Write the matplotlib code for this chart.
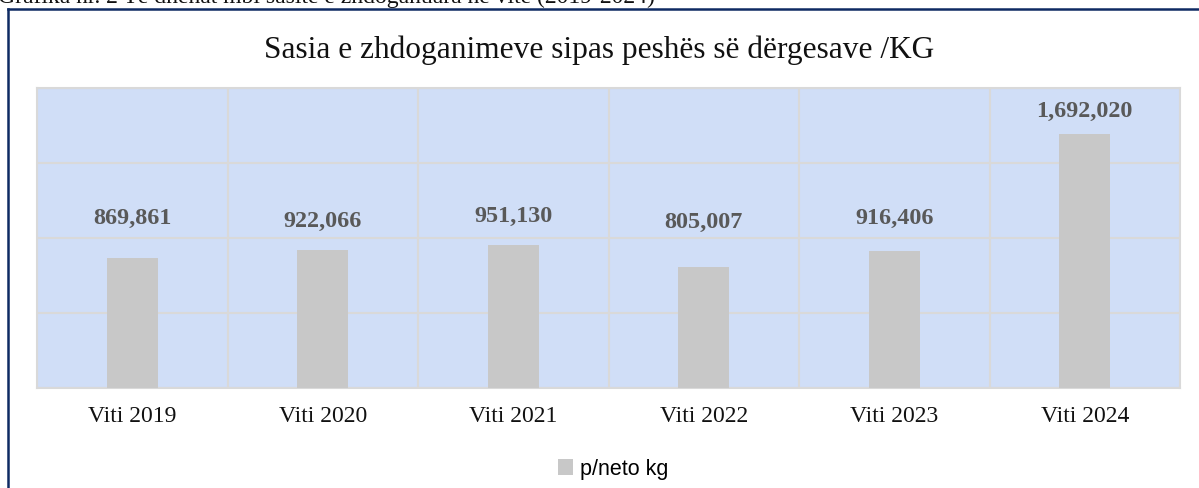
import matplotlib
matplotlib.use("Agg")
import matplotlib.pyplot as plt
from matplotlib.patches import Patch
from matplotlib.lines import Line2D

categories = ["Viti 2019", "Viti 2020", "Viti 2021", "Viti 2022", "Viti 2023", "Viti 2024"]
values = [869861, 922066, 951130, 805007, 916406, 1692020]
series_name = "p/neto kg"
title = "Sasia e zhdoganimeve sipas peshës së dërgesave /KG"
caption = "Grafika nr. 2 Të dhënat mbi sasitë e zhdoganuara në vite (2019-2024)"
# manual label offsets above bar tops (pixels), as in the reference
label_offsets = [39, 28, 29, 45, 32, 23]

W, H = 1199, 488
fig = plt.figure(figsize=(W / 100, H / 100), dpi=100)
fig.patch.set_facecolor("white")

ax = fig.add_axes([37 / W, (H - 388) / H, (1180 - 37) / W, 300 / H])
ax.set_facecolor("#D0DEF7")
x = list(range(len(categories)))
ax.bar(x, values, width=0.27, color="#C8C8C8", zorder=3)
ax.set_xlim(-0.5, len(categories) - 0.5)
ax.set_ylim(0, 2000000)
ax.set_yticks([0, 500000, 1000000, 1500000, 2000000])
ax.set_yticklabels([])
ax.tick_params(axis="y", length=0)
ax.set_xticks(x)
ax.set_xticklabels(categories, fontfamily="Liberation Serif", fontsize=17, color="#111111")
ax.tick_params(axis="x", length=0, pad=13)
ax.grid(axis="y", color="#D9D9D9", linewidth=1.5, zorder=1)
for b in [i + 0.5 for i in x[:-1]]:
    ax.axvline(b, color="#D9D9D9", linewidth=1.5, zorder=1)
for s in ax.spines.values():
    s.set_color("#D9D9D9")
    s.set_linewidth(1.5)

for xi, v, off in zip(x, values, label_offsets):
    ax.annotate(f"{v:,}", xy=(xi, v), xytext=(0, off), textcoords="offset pixels",
                ha="center", va="center", fontfamily="Liberation Serif",
                fontweight="bold", fontsize=17.4, color="#595959", zorder=4)

fig.text(0.5, 1 - 50 / H, title, ha="center", va="center",
         fontfamily="Liberation Serif", fontsize=22.6, color="#111111")

fig.text(-2 / W, 1 - 3 / H, caption, ha="left", va="baseline",
         fontfamily="Liberation Serif", fontsize=17, color="#111111")

# frame lines
navy = "#0E2A63"
fig.add_artist(Line2D([7.5 / W, 7.5 / W], [0, 1 - 9 / H], transform=fig.transFigure,
                      color=navy, linewidth=1.8))
fig.add_artist(Line2D([7.5 / W, 1], [1 - 9 / H, 1 - 9 / H], transform=fig.transFigure,
                      color=navy, linewidth=1.8))

handle = Patch(facecolor="#C8C8C8", edgecolor="none")
fig.legend([handle], [series_name], loc="center", bbox_to_anchor=(613 / W, 1 - 469 / H),
           frameon=False, prop={"family": "Liberation Sans", "size": 15.5},
           handlelength=0.7, handleheight=0.7, handletextpad=0.35)

fig.savefig("out.png", dpi=100)
